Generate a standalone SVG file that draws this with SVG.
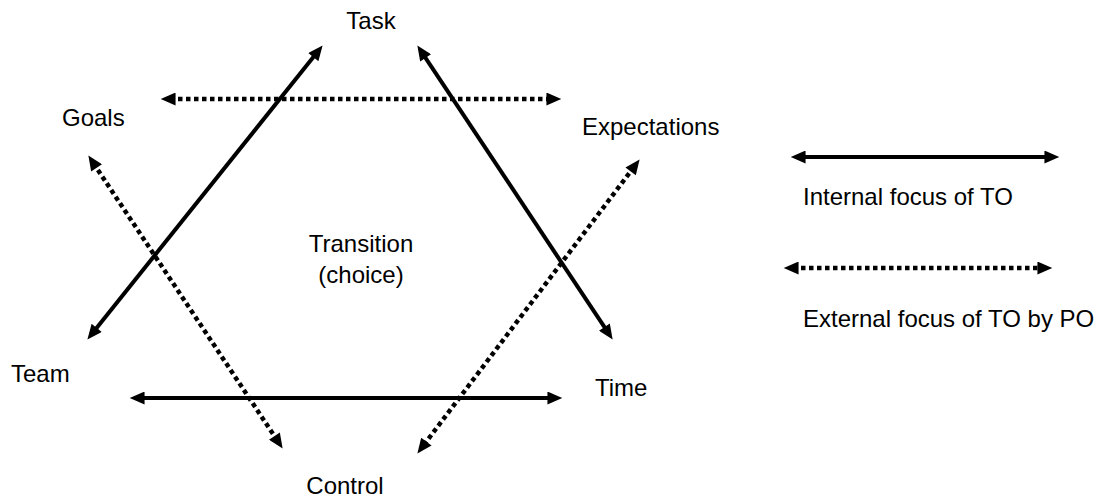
<svg xmlns="http://www.w3.org/2000/svg" width="1116" height="497" viewBox="0 0 1116 497">
  <style>
    .lbl { font-family: "Liberation Sans", Arial, sans-serif; font-size: 24px; fill: #000; }
    .solid { stroke: #000; stroke-width: 4; fill: none; marker-start: url(#head); marker-end: url(#head); }
    .dotted { stroke: #000; stroke-width: 4.5; stroke-dasharray: 4.5 3.5; fill: none; marker-start: url(#head); marker-end: url(#head); }
  </style>
  <defs>
    <marker id="head" viewBox="0 0 16 14" refX="6" refY="7" markerWidth="16" markerHeight="13" markerUnits="userSpaceOnUse" orient="auto-start-reverse">
      <path d="M0,0 L16,7 L0,14 z" fill="#000"/>
    </marker>
  </defs>
  <rect width="1116" height="497" fill="#fff"/>

  <g id="connectors">
    <!-- internal focus: solid double arrows -->
    <line class="solid" x1="93.2" y1="332.2" x2="316.8" y2="52.8"/>
    <line class="solid" x1="422.5" y1="53.3" x2="607.5" y2="331.7"/>
    <line class="solid" x1="139" y1="398" x2="553" y2="398"/>
    <!-- external focus: dotted double arrows -->
    <line class="dotted" x1="170" y1="99" x2="552" y2="99"/>
    <line class="dotted" x1="93.5" y1="163.3" x2="277.5" y2="440.7"/>
    <line class="dotted" x1="634" y1="167" x2="423" y2="446"/>
  </g>

  <g id="task"><text class="lbl" x="371" y="29" text-anchor="middle">Task</text></g>
  <g id="goals"><text class="lbl" x="62" y="126">Goals</text></g>
  <g id="expectations"><text class="lbl" x="582" y="135">Expectations</text></g>
  <g id="team"><text class="lbl" x="11" y="382">Team</text></g>
  <g id="time"><text class="lbl" x="595" y="396">Time</text></g>
  <g id="control"><text class="lbl" x="345" y="494" text-anchor="middle">Control</text></g>
  <g id="transition">
    <text class="lbl" x="361" y="252" text-anchor="middle">Transition</text>
    <text class="lbl" x="361" y="283" text-anchor="middle">(choice)</text>
  </g>

  <g id="legend">
    <line class="solid" x1="800" y1="157" x2="1050" y2="157"/>
    <text class="lbl" x="803" y="205">Internal focus of TO</text>
    <line class="dotted" x1="793" y1="268" x2="1043" y2="268"/>
    <text class="lbl" x="803" y="327">External focus of TO by PO</text>
  </g>
</svg>
